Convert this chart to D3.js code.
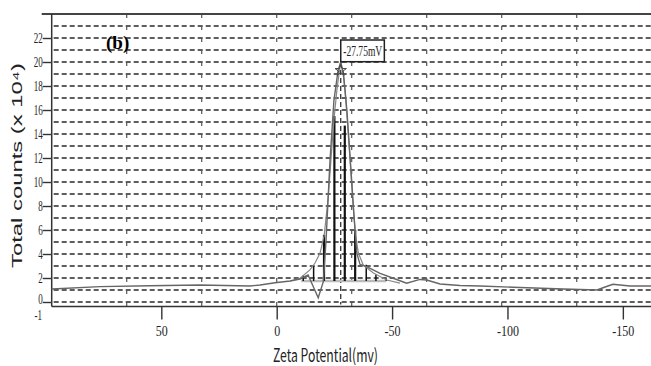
<!DOCTYPE html>
<html>
<head>
<meta charset="utf-8">
<style>
  body { margin: 0; background: #fff; }
  svg { display: block; }
  .tick text { font-family: "Liberation Serif", "Times New Roman", serif; font-size: 15px; fill: #222; }
  .tick line { stroke: #333; stroke-width: 1.4; }
</style>
</head>
<body>
<svg width="651" height="366"></svg>
<script src="https://cdn.jsdelivr.net/npm/d3@7"></script>
<script>
// measured distribution (zeta in mV, counts x 10^4)
var zetaData  = [97.5, 76.6, 54.9, 33.2, 11.6, 7.2, 0.7, -5.8, -10.1, -13.6, -18.0, -20.2, -21.4, -23.1, -24.8, -26.6, -27.75, -29.0, -30.4, -31.9, -33.3, -34.7, -36.1, -39.0, -44.8, -50.5, -56.3, -62.1, -65.0, -70.8, -79.4, -88.1, -102.4, -124.1, -138.8, -142.3, -145.7, -148.8, -153.1, -162.5];
var countData = [1.08, 1.28, 1.36, 1.42, 1.33, 1.42, 1.6, 1.75, 1.92, 2.25, 0.36, 1.7, 5.2, 11.8, 16.8, 19.3, 20.0, 18.9, 16.0, 11.8, 7.7, 4.08, 3.14, 2.94, 2.39, 1.98, 1.56, 1.88, 1.83, 1.5, 1.38, 1.33, 1.23, 1.08, 1.0, 1.25, 1.48, 1.42, 1.33, 1.33];

// fitted peak
var fitZeta  = [-5.8, -10.1, -14.4, -16.6, -18.8, -20.6, -22.2, -23.5, -24.8, -26.1, -27.2, -27.75, -28.6, -29.6, -30.6, -31.8, -33.0, -34.1, -35.4, -37.5, -41.9, -47.7, -53.4];
var fitCount = [1.75, 1.98, 2.67, 3.25, 4.08, 5.58, 8.5, 11.8, 15.2, 17.7, 19.3, 19.9, 19.3, 17.7, 15.2, 11.8, 8.5, 5.58, 4.08, 3.08, 2.42, 1.83, 1.58];

// histogram bins
var binZeta  = [-11.5, -16, -20.5, -25, -29.5, -34, -38.8, -43, -47.5];
var binCount = [2.2, 3.0, 5.6, 15.5, 14.7, 6.0, 3.1, 2.3, 1.95];
var binBase = 1.75;

var peakZeta = -27.75, peakCount = 20.0, peakLabel = "-27.75mV";

var xTicks = [50, 0, -50, -100, -150];
var yTicks = [0, 2, 4, 6, 8, 10, 12, 14, 16, 18, 20, 22];
var yGrid = [0, 1, 2, 3, 4, 5, 6, 7, 8, 9, 10, 11, 12, 13, 14, 15, 16, 17, 18, 19, 20, 21, 22, 23];
var xGrid = [65, 32.5, 0, -32.5, -65, -97.5, -130];

var svg = d3.select("svg");
var x = d3.scaleLinear().domain([97.5, -162.5]).range([51.7, 651.7]);
var y = d3.scaleLinear().domain([-0.375, 24]).range([306.5, 14]);
var fmt = function(d){ return String(d); };

// horizontal dashed grid
svg.append("g").selectAll("line").data(yGrid).enter().append("line")
  .attr("x1", x(97.5) + 2).attr("x2", 651)
  .attr("y1", function(d){ return y(d); }).attr("y2", function(d){ return y(d); })
  .attr("stroke", "#2a2a2a").attr("stroke-width", 1.4).attr("stroke-dasharray", "5,3");

// vertical grid stubs
svg.append("g").selectAll("line").data(xGrid).enter().append("line")
  .attr("x1", function(d){ return x(d); }).attr("x2", function(d){ return x(d); })
  .attr("y1", y(24)).attr("y2", y(-0.375))
  .attr("stroke", "#555").attr("stroke-width", 1.2).attr("stroke-dasharray", "4,8");

// axes frame
svg.append("line").attr("x1", 41.7).attr("x2", 651).attr("y1", y(24)).attr("y2", y(24))
  .attr("stroke", "#444").attr("stroke-width", 2);
svg.append("line").attr("x1", x(97.5)).attr("x2", x(97.5)).attr("y1", y(24)).attr("y2", y(-0.375))
  .attr("stroke", "#333").attr("stroke-width", 1.5);
svg.append("line").attr("x1", x(97.5)).attr("x2", 651).attr("y1", y(-0.375)).attr("y2", y(-0.375))
  .attr("stroke", "#333").attr("stroke-width", 1.5);

// y axis
var gy = svg.append("g").attr("transform", "translate(" + x(97.5) + ",0)")
  .call(d3.axisLeft(y).tickValues(yTicks).tickFormat(fmt).tickSize(9).tickPadding(0));
gy.select(".domain").remove();
gy.selectAll("text").attr("transform", "scale(0.6,1)").attr("x", -9 / 0.6);
gy.selectAll(".tick").filter(function(d){ return d === 0; }).select("text").attr("dy", "0.1em");
svg.append("text").attr("transform", "translate(42," + (y(0) + 18) + ") scale(0.6,1)")
  .attr("text-anchor", "end")
  .style("font-family", "Liberation Serif, serif").style("font-size", "15px").style("fill", "#222")
  .text("-1");

// x axis
var gx = svg.append("g").attr("transform", "translate(0," + y(-0.375) + ")")
  .call(d3.axisBottom(x).tickValues(xTicks).tickFormat(fmt).tickSize(13).tickPadding(6));
gx.select(".domain").remove();
gx.selectAll("text").attr("transform", "scale(0.8,1)");

// peak dashed marker
svg.append("line").attr("x1", x(peakZeta)).attr("x2", x(peakZeta))
  .attr("y1", y(peakCount)).attr("y2", y(-0.2))
  .attr("stroke", "#222").attr("stroke-width", 1.2).attr("stroke-dasharray", "5,3");

// histogram baseline and bars
svg.append("line").attr("x1", x(binZeta[0]) - 2).attr("x2", x(binZeta[binZeta.length - 1]))
  .attr("y1", y(binBase)).attr("y2", y(binBase))
  .attr("stroke", "#bbb").attr("stroke-width", 2.5);
svg.append("g").selectAll("line").data(binZeta).enter().append("line")
  .attr("x1", function(d){ return x(d); }).attr("x2", function(d){ return x(d); })
  .attr("y1", y(binBase)).attr("y2", function(d, i){ return y(binCount[i]); })
  .attr("stroke", "#111").attr("stroke-width", function(d, i){ return binCount[i] > 5 ? 2.2 : 1.5; });

// curves
var line = d3.line().x(function(d){ return x(d[0]); }).y(function(d){ return y(d[1]); })
  .curve(d3.curveLinear);
var fitPts = fitZeta.map(function(d, i){ return [d, fitCount[i]]; });
svg.append("path").datum(fitPts).attr("d", line)
  .attr("fill", "none").attr("stroke", "#888").attr("stroke-width", 1.2);

var dataPts = zetaData.map(function(d, i){ return [d, countData[i]]; });
svg.append("path").datum(dataPts).attr("d", line)
  .attr("fill", "none").attr("stroke", "#666").attr("stroke-width", 1.4);

// peak marker
svg.append("path").attr("d", d3.symbol().type(d3.symbolStar).size(40)())
  .attr("transform", "translate(" + x(peakZeta) + "," + y(19.3) + ")")
  .attr("fill", "none").attr("stroke", "#444").attr("stroke-width", 1);

// peak label box
var bx = x(peakZeta), by = y(peakCount) - 22;
svg.append("rect").attr("x", bx).attr("y", by).attr("width", 43.6).attr("height", 21.7)
  .attr("fill", "#fff").attr("stroke", "#222").attr("stroke-width", 1.5);
svg.append("text").attr("x", bx + 2.5).attr("y", by + 16)
  .attr("textLength", 39).attr("lengthAdjust", "spacingAndGlyphs")
  .style("font-family", "Liberation Serif, serif").style("font-size", "15px").style("fill", "#222")
  .text(peakLabel);

// panel tag
svg.append("text").attr("x", 106).attr("y", 48.5)
  .style("font-family", "Liberation Serif, serif").style("font-size", "19px").style("font-weight", "bold")
  .text("(b)");

// axis titles
svg.append("text").attr("transform", "translate(21.5,165.5) rotate(-90)")
  .attr("text-anchor", "middle").attr("textLength", 205).attr("lengthAdjust", "spacingAndGlyphs")
  .style("font-family", "Liberation Sans, Arial, sans-serif").style("font-size", "15px").style("fill", "#222")
  .text("Total counts (x 10\u2074)");
svg.append("text").attr("x", 325.5).attr("y", 362)
  .attr("text-anchor", "middle").attr("textLength", 105).attr("lengthAdjust", "spacingAndGlyphs")
  .style("font-family", "Noto Sans CJK SC, sans-serif").style("font-size", "18px").style("fill", "#222")
  .text("Zeta Potential(mv)");
</script>
</body>
</html>
